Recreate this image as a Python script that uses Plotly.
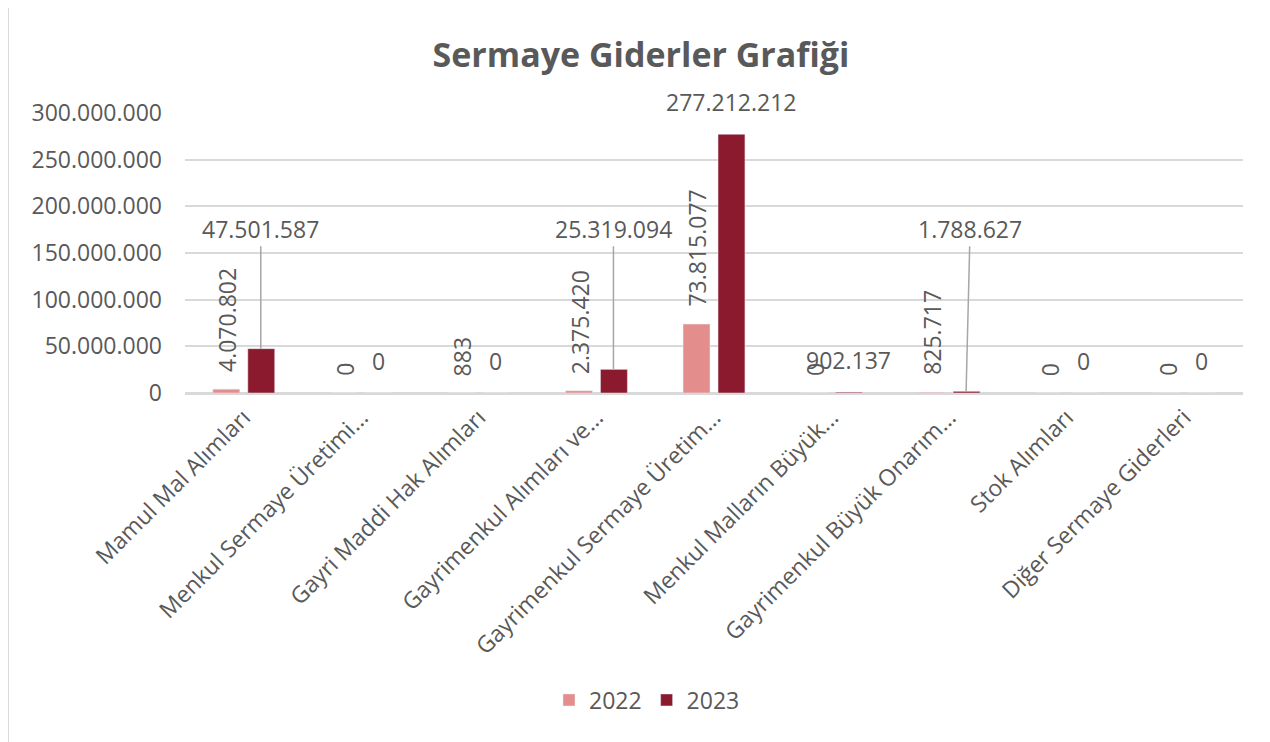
import plotly.graph_objects as go

categories = [
    "Mamul Mal Alımları",
    "Menkul Sermaye Üretimi...",
    "Gayri Maddi Hak Alımları",
    "Gayrimenkul Alımları ve...",
    "Gayrimenkul Sermaye Üretim...",
    "Menkul Malların Büyük...",
    "Gayrimenkul Büyük Onarım...",
    "Stok Alımları",
    "Diğer Sermaye Giderleri",
]
values_2022 = [4070802, 0, 883, 2375420, 73815077, 0, 825717, 0, 0]
values_2023 = [47501587, 0, 0, 25319094, 277212212, 902137, 1788627, 0, 0]
y_ticks = [0, 50000000, 100000000, 150000000, 200000000, 250000000, 300000000]

# labels of 2023 that were moved up with a leader line (category index -> x offset px)
moved_2023 = {0: 0, 3: 0, 6: 4}

C22 = "#E38D8D"
C23 = "#8B1A2E"
TXT = "#595959"
GRID = "#D9D9D9"
FONT = "Open Sans"


def fmt(v):
    return f"{v:,}".replace(",", ".")


fig = go.Figure()
fig.add_trace(go.Bar(name="2022", x=categories, y=values_2022, marker_color=C22))
fig.add_trace(go.Bar(name="2023", x=categories, y=values_2023, marker_color=C23))

annotations = []
for i, (cat, v) in enumerate(zip(categories, values_2022)):
    annotations.append(dict(
        x=cat, y=v, xref="x", yref="y", text=fmt(v), textangle=-90,
        showarrow=False, xanchor="center", yanchor="bottom",
        xshift=-17, yshift=15, font=dict(family=FONT, size=23, color=TXT)))

for i, (cat, v) in enumerate(zip(categories, values_2023)):
    if i in moved_2023:
        annotations.append(dict(
            x=cat, y=v, xref="x", yref="y", text=fmt(v),
            showarrow=True, arrowhead=0, arrowwidth=1.5, arrowcolor="#A6A6A6",
            axref="pixel", ax=moved_2023[i], ayref="y", ay=176000000,
            standoff=0, xshift=17,
            font=dict(family=FONT, size=23, color=TXT)))
    else:
        annotations.append(dict(
            x=cat, y=v, xref="x", yref="y", text=fmt(v),
            showarrow=False, xanchor="center", yanchor="bottom",
            xshift=17, yshift=14, font=dict(family=FONT, size=23, color=TXT)))

OFF = 8  # page body margin
W, H = 1270, 742
L = 185 - OFF
T = 113 - OFF
R = W - (1243 - OFF)
B = H - (393 - OFF)
pw, ph = W - L - R, H - T - B


def px_x(x):
    return (x - OFF - L) / pw


def px_y(y):
    return (H - B - (y - OFF)) / ph


frame = dict(color=GRID, width=2)
fig.update_layout(
    width=W, height=H,
    margin=dict(l=L, r=R, t=T, b=B, pad=0),
    paper_bgcolor="white", plot_bgcolor="white",
    separators=",.",
    barmode="group", bargap=0.405, bargroupgap=0.23,
    title=dict(text="<b>Sermaye Giderler Grafiği</b>", x=(641 - OFF) / W, xanchor="center",
               y=1 - (55 - OFF) / H, yanchor="middle",
               font=dict(family=FONT, size=34, color=TXT)),
    font=dict(family=FONT, color=TXT),
    showlegend=True,
    legend=dict(orientation="h", x=px_x(647), xanchor="center",
                y=px_y(700), yanchor="middle",
                font=dict(family=FONT, size=23, color=TXT),
                itemwidth=30, tracegroupgap=0),
    annotations=annotations,
    shapes=[
        dict(type="line", xref="paper", yref="paper",
             x0=px_x(8), x1=px_x(8), y0=px_y(4), y1=px_y(760), line=frame),
        dict(type="line", xref="paper", yref="paper",
             x0=px_x(8), x1=px_x(1290), y0=px_y(4), y1=px_y(4), line=frame),
    ],
)
fig.update_xaxes(tickangle=-45, tickfont=dict(family=FONT, size=23, color=TXT),
                 showgrid=False, showline=True, linecolor=GRID, linewidth=2,
                 ticks="", ticklen=0)
fig.update_yaxes(range=[0, 300000000], tickvals=y_ticks, tickformat=",d",
                 tickfont=dict(family=FONT, size=23, color=TXT),
                 showgrid=True, gridcolor=GRID, gridwidth=2,
                 zeroline=True, zerolinecolor=GRID, zerolinewidth=2,
                 showline=False, ticks="", ticklabelstandoff=22)

fig.write_html("out.html")
